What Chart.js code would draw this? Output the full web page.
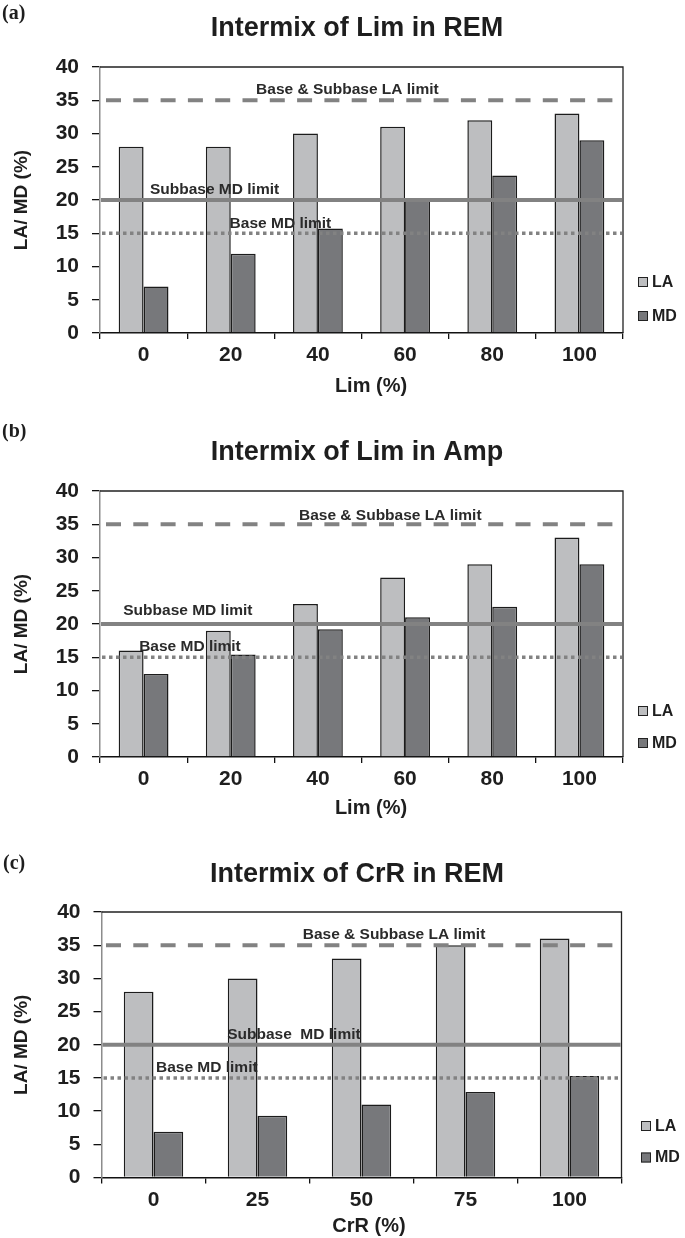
<!DOCTYPE html>
<html>
<head>
<meta charset="utf-8">
<script src="https://cdn.jsdelivr.net/npm/chart.js@4.4.0/dist/chart.umd.min.js"></script>
<style>
html, body { margin: 0; padding: 0; background: #fff; overflow: hidden; }
body { width: 685px; height: 1238px; position: relative; }
.panel { position: absolute; left: 0; width: 685px; }
</style>
</head>
<body>
<div class="panel" style="top:0px;height:424px"><canvas id="chart-a"></canvas></div>
<div class="panel" style="top:424px;height:421px"><canvas id="chart-b"></canvas></div>
<div class="panel" style="top:845px;height:393px"><canvas id="chart-c"></canvas></div>
<script>
// categories
const limLabels = ["0", "20", "40", "60", "80", "100"]
const crrLabels = ["0", "25", "50", "75", "100"]

// (a) Lim in REM
const remLimLA = [28, 28, 30, 31, 32, 33]
const remLimMD = [7, 11.9, 15.7, 20, 23.7, 29]
// (b) Lim in Amp
const ampLimLA = [16, 19, 23, 27, 29, 33]
const ampLimMD = [12.5, 15.4, 19.2, 21, 22.6, 29]
// (c) CrR in REM
const remCrrLA = [28, 30, 33, 35, 36]
const remCrrMD = [6.9, 9.3, 11, 12.9, 15.3]

// specification limits (%)
const laLimit = 35
const subbaseMdLimit = 20
const baseMdLimit = 15

const yMin = 0
const yMax = 40
const yStep = 5

const FONT = '"Liberation Sans", Arial, Helvetica, sans-serif'
const TEXT = "#1e1e1e"
const LA_FILL = "#bdbec0"
const MD_FILL = "#77787b"
const LIMIT_COLOR = "#828282"

Chart.defaults.font.family = FONT
Chart.defaults.color = TEXT

const panels = [
    {
        id: "chart-a", tag: "(a)", tagX: 2, tagY: 18.5,
        title: "Intermix of Lim in REM", xTitle: "Lim (%)",
        labels: limLabels, la: remLimLA, md: remLimMD,
        height: 424, left: 100, right: 623, top: 67, bottom: 333,
        titleX: 357, titleY: 36, xTitleX: 371, xTitleY: 392,
        legendX: 638, legendY: [282, 316],
        notes: [
            { text: "Base & Subbase LA limit", v: laLimit, fx: 0.473, dy: 6 },
            { text: "Subbase MD limit", v: subbaseMdLimit, fx: 0.219, dy: 6 },
            { text: "Base MD limit", v: baseMdLimit, fx: 0.345, dy: 5.5 },
        ],
    },
    {
        id: "chart-b", tag: "(b)", tagX: 2, tagY: 13,
        title: "Intermix of Lim in Amp", xTitle: "Lim (%)",
        labels: limLabels, la: ampLimLA, md: ampLimMD,
        height: 421, left: 100, right: 623, top: 67, bottom: 333,
        titleX: 357, titleY: 36, xTitleX: 371, xTitleY: 390,
        legendX: 638, legendY: [287, 319],
        notes: [
            { text: "Base & Subbase LA limit", v: laLimit, fx: 0.555, dy: 4 },
            { text: "Subbase MD limit", v: subbaseMdLimit, fx: 0.168, dy: 9 },
            { text: "Base MD limit", v: baseMdLimit, fx: 0.172, dy: 6.5 },
        ],
    },
    {
        id: "chart-c", tag: "(c)", tagX: 3, tagY: 23.5,
        title: "Intermix of CrR in REM", xTitle: "CrR (%)",
        labels: crrLabels, la: remCrrLA, md: remCrrMD,
        height: 393, left: 101.5, right: 621.5, top: 67, bottom: 332.5,
        titleX: 357, titleY: 36.5, xTitleX: 369, xTitleY: 387,
        legendX: 641, legendY: [281, 312.5],
        notes: [
            { text: "Base & Subbase LA limit", v: laLimit, fx: 0.5625, dy: 5.7 },
            { text: "Subbase  MD limit", v: subbaseMdLimit, fx: 0.37, dy: 6 },
            { text: "Base MD limit", v: baseMdLimit, fx: 0.2025, dy: 6.3 },
        ],
    },
]

// limit lines + their labels, drawn over the bars
const limitPlugin = {
    id: "limits",
    afterDatasetsDraw(chart, args, opts) {
        const { ctx, chartArea } = chart
        const y = chart.scales.y
        const lines = [
            { v: laLimit, width: 4, dash: [15, 12.3], start: 106 },
            { v: subbaseMdLimit, width: 4, dash: [], start: chartArea.left + 1 },
            { v: baseMdLimit, width: 3.5, dash: [3.5, 3.5], start: chartArea.left + 2 },
        ]
        ctx.save()
        ctx.strokeStyle = LIMIT_COLOR
        ctx.lineCap = "butt"
        lines.forEach((l) => {
            const py = y.getPixelForValue(l.v)
            ctx.lineWidth = l.width
            ctx.setLineDash(l.dash)
            ctx.beginPath()
            ctx.moveTo(l.start, py)
            ctx.lineTo(chartArea.right - 1, py)
            ctx.stroke()
        })
        ctx.setLineDash([])
        ctx.fillStyle = "#2a2a2a"
        ctx.font = "bold 15.5px " + FONT
        ctx.textAlign = "center"
        ctx.textBaseline = "alphabetic"
        opts.notes.forEach((n) => {
            const px = chartArea.left + n.fx * (chartArea.right - chartArea.left)
            ctx.fillText(n.text, px, y.getPixelForValue(n.v) - n.dy)
        })
        ctx.restore()
    },
}

// frame, titles, legend
const decorPlugin = {
    id: "decor",
    afterDraw(chart, args, p) {
        const { ctx, chartArea } = chart
        ctx.save()
        // top / right frame
        ctx.strokeStyle = "#222"
        ctx.lineWidth = 1.3
        ctx.beginPath()
        ctx.moveTo(chartArea.left, chartArea.top)
        ctx.lineTo(chartArea.right, chartArea.top)
        ctx.lineTo(chartArea.right, chartArea.bottom)
        ctx.stroke()

        ctx.fillStyle = TEXT
        ctx.textAlign = "left"
        ctx.textBaseline = "alphabetic"
        ctx.font = 'bold 20px "Liberation Serif", "Times New Roman", serif'
        ctx.fillText(p.tag, p.tagX, p.tagY)

        ctx.textAlign = "center"
        ctx.font = "bold 27px " + FONT
        ctx.fillText(p.title, p.titleX, p.titleY)

        ctx.font = "bold 20px " + FONT
        ctx.fillText(p.xTitle, p.xTitleX, p.xTitleY)

        ctx.save()
        ctx.translate(22, (chartArea.top + chartArea.bottom) / 2)
        ctx.rotate(-Math.PI / 2)
        ctx.textBaseline = "middle"
        ctx.font = "bold 19px " + FONT
        ctx.fillText("LA/ MD (%)", 0, 0)
        ctx.restore()

        // legend
        ctx.textAlign = "left"
        ctx.textBaseline = "middle"
        ctx.font = "bold 16px " + FONT
        chart.data.datasets.forEach((ds, i) => {
            const cy = p.legendY[i]
            ctx.fillStyle = ds.backgroundColor
            ctx.fillRect(p.legendX, cy - 5, 10, 10)
            ctx.strokeStyle = "#222"
            ctx.lineWidth = 1
            ctx.strokeRect(p.legendX + 0.5, cy - 4.5, 9, 9)
            ctx.fillStyle = TEXT
            ctx.fillText(ds.label, p.legendX + 14, cy + 0.5)
        })
        ctx.restore()
    },
}

function drawPanel(p) {
    const canvas = document.getElementById(p.id)
    const xAxisHeight = 50
    return new Chart(canvas, {
        type: "bar",
        data: {
            labels: p.labels,
            datasets: [
                {
                    label: "LA",
                    data: p.la,
                    backgroundColor: LA_FILL,
                    borderColor: "#1c1c1c",
                    borderWidth: 1.5,
                    categoryPercentage: 2 / 3.5,
                    barPercentage: 1,
                },
                {
                    label: "MD",
                    data: p.md,
                    backgroundColor: MD_FILL,
                    borderColor: "#1c1c1c",
                    borderWidth: 1.5,
                    categoryPercentage: 2 / 3.5,
                    barPercentage: 1,
                },
            ],
        },
        options: {
            responsive: false,
            animation: false,
            devicePixelRatio: 1,
            layout: {
                padding: {
                    left: 0,
                    top: p.top,
                    right: 685 - p.right,
                    bottom: p.height - p.bottom - xAxisHeight,
                },
            },
            plugins: {
                legend: { display: false },
                title: { display: false },
                tooltip: { enabled: false },
                limits: { notes: p.notes },
                decor: p,
            },
            scales: {
                x: {
                    offset: true,
                    grid: {
                        offset: true,
                        drawOnChartArea: false,
                        drawTicks: true,
                        tickLength: 6,
                        color: "#111",
                        lineWidth: 1.3,
                    },
                    border: { display: true, color: "#111", width: 1.5 },
                    ticks: {
                        color: TEXT,
                        font: { size: 21, weight: "bold" },
                        padding: 4,
                        maxRotation: 0,
                        autoSkip: false,
                    },
                    afterFit(s) {
                        s.height = xAxisHeight
                    },
                },
                y: {
                    min: yMin,
                    max: yMax,
                    grid: {
                        drawOnChartArea: false,
                        drawTicks: true,
                        tickLength: 8,
                        color: "#111",
                        lineWidth: 1.3,
                    },
                    border: { display: true, color: "#8c8c8c", width: 1.5 },
                    ticks: {
                        stepSize: yStep,
                        color: TEXT,
                        font: { size: 21, weight: "bold" },
                        padding: 13,
                    },
                    afterFit(s) {
                        s.width = p.left
                    },
                },
            },
        },
        plugins: [limitPlugin, decorPlugin],
    })
}

panels.forEach((p) => {
    const c = document.getElementById(p.id)
    c.width = 685
    c.height = p.height
    c.style.width = "685px"
    c.style.height = p.height + "px"
    drawPanel(p)
})
</script>
</body>
</html>
